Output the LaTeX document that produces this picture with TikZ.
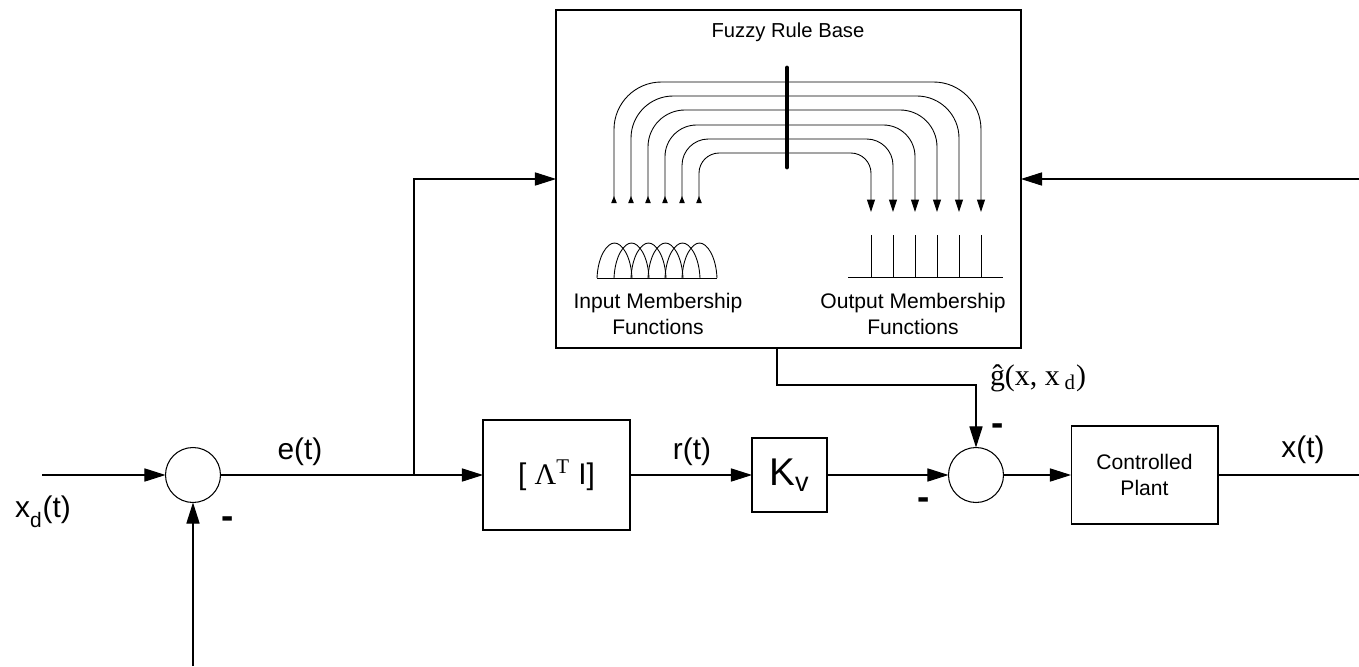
\documentclass[tikz,border=0pt]{standalone}
\usepackage{fontspec}
\setmainfont{Liberation Sans}
\newfontfamily\serifface{Liberation Serif}
\usetikzlibrary{arrows.meta}

\begin{document}
\begin{tikzpicture}[
    x=0.02cm, y=-0.02cm,
    line width=0.6pt,
    block/.style={draw, rectangle, inner sep=0pt, outer sep=0pt},
    sumnode/.style={draw, circle, minimum size=1.1cm, inner sep=0pt, outer sep=0pt},
    sig/.style={-{Triangle[length=12pt, width=7.5pt]}},
    rule/.style={line width=0.5pt, {Triangle[reversed, length=4pt, width=3pt]}-{Triangle[length=7pt, width=4.5pt]}},
    mf/.style={line width=0.5pt},
    biglbl/.style={font=\fontsize{17}{20}\selectfont},
    smalllbl/.style={font=\fontsize{12}{14.5}\selectfont, align=center},
    minus/.style={font=\bfseries\fontsize{21}{24}\selectfont, inner sep=0pt}
]

    \useasboundingbox (0,0) rectangle (1359,666);

    % Coordinates
    \coordinate (xd)    at (42,475);
    \coordinate (fbin)  at (193,666);
    \coordinate (split) at (414,475);
    \coordinate (xin)   at (1359,179);
    \coordinate (xout)  at (1359,475);
    \coordinate (gout)  at (777,348);

    % Blocks
    \node[sumnode] (sum1) at (193,475) {};
    \node[block, minimum width=2.94cm, minimum height=2.2cm, biglbl] (lam) at (556.5,475)
        {[ {\serifface Λ\textsuperscript{T}} I]};
    \node[block, minimum width=1.5cm, minimum height=1.48cm, font=\fontsize{22}{24}\selectfont] (kv) at (789.5,475)
        {K\textsubscript{v}};
    \node[sumnode] (sum2) at (976,475) {};
    \node[block, minimum width=2.94cm, minimum height=1.96cm, smalllbl] (plant) at (1144.5,475)
        {Controlled\\Plant};
    \node[block, line width=1.1pt, minimum width=9.3cm, minimum height=6.76cm] (fuzzy) at (788.5,179) {};

    % Fuzzy rule base: rules from input to output sets
    \draw[rule, rounded corners=27pt]   (614,203) -- (614,82)  -- (981,82)  -- (981,212);
    \draw[rule, rounded corners=24pt]   (631,203) -- (631,96)  -- (959,96)  -- (959,212);
    \draw[rule, rounded corners=21pt]   (648,203) -- (648,110) -- (937,110) -- (937,212);
    \draw[rule, rounded corners=18pt]   (665,203) -- (665,125) -- (915,125) -- (915,212);
    \draw[rule, rounded corners=15pt]   (682,203) -- (682,139) -- (893,139) -- (893,212);
    \draw[rule, rounded corners=11.5pt] (699,203) -- (699,153) -- (871,153) -- (871,212);
    \draw[line width=2.8pt, line cap=round] (787,68) -- (787,167);

    % Input membership functions
    \draw[mf] (597,278) -- (717,278);
    \draw[mf] (597,278) .. controls (598,256) and (607,243) .. (614.5,243) .. controls (622,243) and (631,256) .. (632,278);
    \draw[mf] (614,278) .. controls (615,256) and (624,243) .. (631.5,243) .. controls (639,243) and (648,256) .. (649,278);
    \draw[mf] (631,278) .. controls (632,256) and (641,243) .. (648.5,243) .. controls (656,243) and (665,256) .. (666,278);
    \draw[mf] (648,278) .. controls (649,256) and (658,243) .. (665.5,243) .. controls (673,243) and (682,256) .. (683,278);
    \draw[mf] (665,278) .. controls (666,256) and (675,243) .. (682.5,243) .. controls (690,243) and (699,256) .. (700,278);
    \draw[mf] (682,278) .. controls (683,256) and (692,243) .. (699.5,243) .. controls (707,243) and (716,256) .. (717,278);

    % Output membership functions
    \draw[mf] (848,277) -- (1003,277);
    \draw[mf] (871,235) -- (871,277);
    \draw[mf] (893,235) -- (893,277);
    \draw[mf] (915,235) -- (915,277);
    \draw[mf] (937,235) -- (937,277);
    \draw[mf] (959,235) -- (959,277);
    \draw[mf] (981,235) -- (981,277);

    % Fuzzy box texts
    \node[font=\fontsize{11.5}{14}\selectfont] (title) at (788,32) {Fuzzy Rule Base};
    \node[smalllbl] (inlbl)  at (658,314) {Input Membership\\Functions};
    \node[smalllbl] (outlbl) at (913,314) {Output Membership\\Functions};

    % Signal paths
    \draw[sig] (xd) -- (sum1);
    \draw[sig] (fbin) -- (sum1);
    \draw (sum1) -- (split);
    \draw[sig] (split) -- (lam);
    \draw[sig] (split) |- (fuzzy.west);
    \draw[sig] (xin) -- (fuzzy.east);
    \draw[sig] (lam) -- (kv);
    \draw[sig] (kv) -- (sum2);
    \draw[sig] (gout) -- ++(0,37) -| (sum2);
    \draw[sig] (sum2) -- (plant);
    \draw[line width=1.1pt] (plant) -- (xout);

    % Signal labels
    \node[biglbl] (xdlbl) at (43,512)   {x\raisebox{-3pt}{\textsubscript{d}}(t)};
    \node[biglbl] (elbl)  at (300,452)  {e(t)};
    \node[biglbl] (rlbl)  at (692,452)  {r(t)};
    \node[biglbl] (xlbl)  at (1303,450) {x(t)};
    \node[font=\serifface\fontsize{17}{20}\selectfont] (glbl) at (1038,378) {ĝ(x, x\,\textsubscript{d})};

    % Signs
    \node[minus] (m1) at (228,523) {-};
    \node[minus] (m2) at (998,430) {-};
    \node[minus] (m3) at (924,504) {-};

\end{tikzpicture}
\end{document}
